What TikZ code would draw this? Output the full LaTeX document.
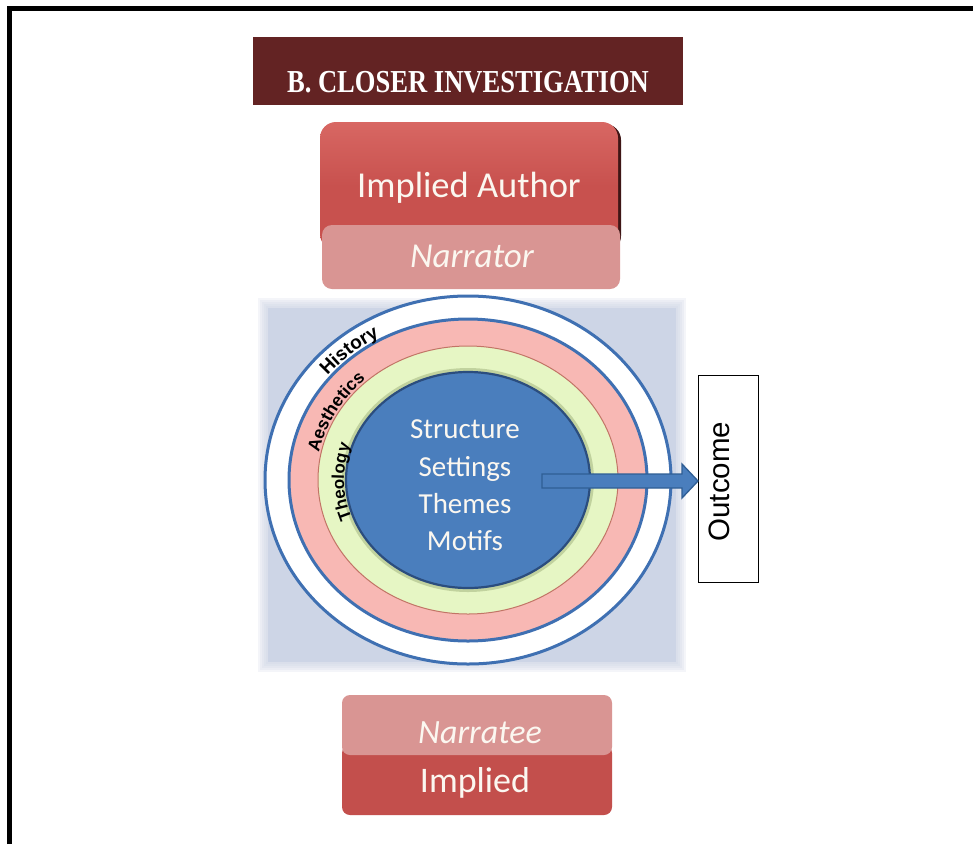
\documentclass[tikz,border=0pt]{standalone}
\usepackage{fontspec}
\setmainfont{Carlito}
\newfontfamily\titlefont{Liberation Serif}
\newfontfamily\labelfont{Liberation Sans}
\usetikzlibrary{calc,decorations.text,shapes.geometric}

\definecolor{titlered}{HTML}{632323}
\definecolor{authred}{HTML}{C8514E}
\definecolor{authtop}{HTML}{D86763}
\definecolor{authshade}{HTML}{3E1515}
\definecolor{lightred}{HTML}{D99593}
\definecolor{implred}{HTML}{C34F4C}
\definecolor{ringblue}{HTML}{3F70B2}
\definecolor{coreblue}{HTML}{4A7EBD}
\definecolor{coreedge}{HTML}{2B4D7E}
\definecolor{pinkring}{HTML}{F8B8B4}
\definecolor{pinkedge}{HTML}{C27466}
\definecolor{greenring}{HTML}{E6F6C4}
\definecolor{greenedge}{HTML}{9DB07A}
\definecolor{bgblue}{HTML}{CDD5E6}
\definecolor{softwhite}{HTML}{FBF7F0}
\definecolor{arrowedge}{HTML}{2F5E95}

\begin{document}
\begin{tikzpicture}[x=1pt,y=1pt,
  slab/.style={draw=none, inner sep=0pt, outer sep=0pt},
  whitetext/.style={text=softwhite, inner sep=0pt, anchor=base},
  ring/.style={ellipse, inner sep=0pt, outer sep=0pt},
  coretext/.style={whitetext, font=\fontsize{29}{29}\selectfont},
]
\useasboundingbox (0,0) rectangle (973,-844);
\fill[white] (0,0) rectangle (973,-844);

% page frame, running off the right and bottom edges
\draw[line width=5pt, line join=miter] (9.5,-844) -- (9.5,-8.5) -- (973,-8.5);

% heading bar
\node[slab, fill=titlered, minimum width=430pt, minimum height=68pt] (title) at (468,-71) {};
\node[text=white, inner sep=0pt, anchor=base] (titletxt) at (468,-92)
  {\scalebox{0.83}[1]{\titlefont\bfseries\fontsize{32}{32}\selectfont B. CLOSER INVESTIGATION}};

% implied author / narrator
\node[slab, rounded corners=16pt, fill=authshade, minimum width=298pt, minimum height=128pt] (authshadow) at (472,-188) {};
\node[slab, rounded corners=16pt, top color=authtop, bottom color=authred, middle color=authred,
      minimum width=298pt, minimum height=128pt] (author) at (469,-186) {};
\node[whitetext, font=\fontsize{36.5}{36.5}\selectfont] (authortxt) at (469,-197) {Implied Author};
\node[slab, rounded corners=10pt, fill=lightred, minimum width=298pt, minimum height=64pt] (narrator) at (471,-257) {};
\node[whitetext, font=\itshape\fontsize{35}{35}\selectfont] (narratortxt) at (472,-267) {Narrator};

% soft backdrop behind the rings
\foreach \g in {10,8,6,4,2} {
  \fill[bgblue, opacity=0.22] (268-\g,-308+\g) rectangle (676+\g,-662-\g);
}
\fill[bgblue] (268,-308) rectangle (676,-662);

% concentric rings
\coordinate (c) at (468,-480);
\node[ring, fill=white, draw=ringblue, line width=3pt, minimum width=406pt, minimum height=368pt] (history) at (c) {};
\node[ring, fill=pinkring, draw=ringblue, line width=3pt, minimum width=358pt, minimum height=322pt] (aesthetics) at (c) {};
\node[ring, fill=greenring, draw=pinkedge, line width=1pt, minimum width=300pt, minimum height=268pt] (theology) at (c) {};
\node[ring, draw=greenedge, line width=4pt, opacity=0.5, minimum width=248pt, minimum height=220pt] (coreglow) at (c) {};
\node[ring, fill=coreblue, draw=coreedge, line width=2.2pt, minimum width=244pt, minimum height=216pt] (core) at (c) {};

% ring labels following the curves
\path[decorate, decoration={text along path, text align=center,
      text={|\labelfont\bfseries\fontsize{19}{19}\selectfont|History}}]
  ($(c)+(148:182 and 164)$) arc[start angle=148, end angle=112, x radius=182, y radius=164];
\path[decorate, decoration={text along path, text align=center,
      text={|\labelfont\bfseries\fontsize{17.5}{17.5}\selectfont|Aesthetics}}]
  ($(c)+(174:152 and 136)$) arc[start angle=174, end angle=127, x radius=152, y radius=136];
\path[decorate, decoration={text along path, text align=center,
      text={|\labelfont\bfseries\fontsize{17}{17}\selectfont|Theology}}]
  ($(c)+(204:124 and 110)$) arc[start angle=204, end angle=158, x radius=124, y radius=110];

% core contents
\node[coretext] (structure) at (465,-438) {Structure};
\node[coretext] (settings) at (465,-476) {Settings};
\node[coretext] (themes) at (465,-513) {Themes};
\node[coretext] (motifs) at (465,-550) {Motifs};

% outcome box
\node[slab, draw=black, line width=1pt, fill=white, minimum width=60pt, minimum height=207pt] (outcome) at (728,-478.5) {};
\node[inner sep=0pt, rotate=90, font=\labelfont\fontsize{29.5}{29.5}\selectfont] (outcometxt) at (719,-481.5) {Outcome};

% block arrow from the core to the outcome
\coordinate (arrs) at (542,-481);
\coordinate (tip) at (outcome.west |- arrs);
\filldraw[fill=coreblue, draw=arrowedge, line width=1.3pt, line join=miter]
  ($(arrs)+(0,7)$) -- ($(tip)+(-16,7)$) -- ($(tip)+(-16,17)$) -- (tip)
  -- ($(tip)+(-16,-17)$) -- ($(tip)+(-16,-7)$) -- ($(arrs)+(0,-7)$) -- cycle;

% narratee / implied reader
\node[slab, rounded corners=8pt, fill=implred, minimum width=270pt, minimum height=70pt] (implied) at (477,-780) {};
\node[slab, rounded corners=8pt, fill=lightred, minimum width=270pt, minimum height=60pt] (narratee) at (477,-725) {};
\node[whitetext, font=\itshape\fontsize{34}{34}\selectfont] (narrateetxt) at (480,-743) {Narratee};
\node[whitetext, font=\fontsize{36}{36}\selectfont] (impliedtxt) at (475,-792) {Implied};
\end{tikzpicture}
\end{document}
